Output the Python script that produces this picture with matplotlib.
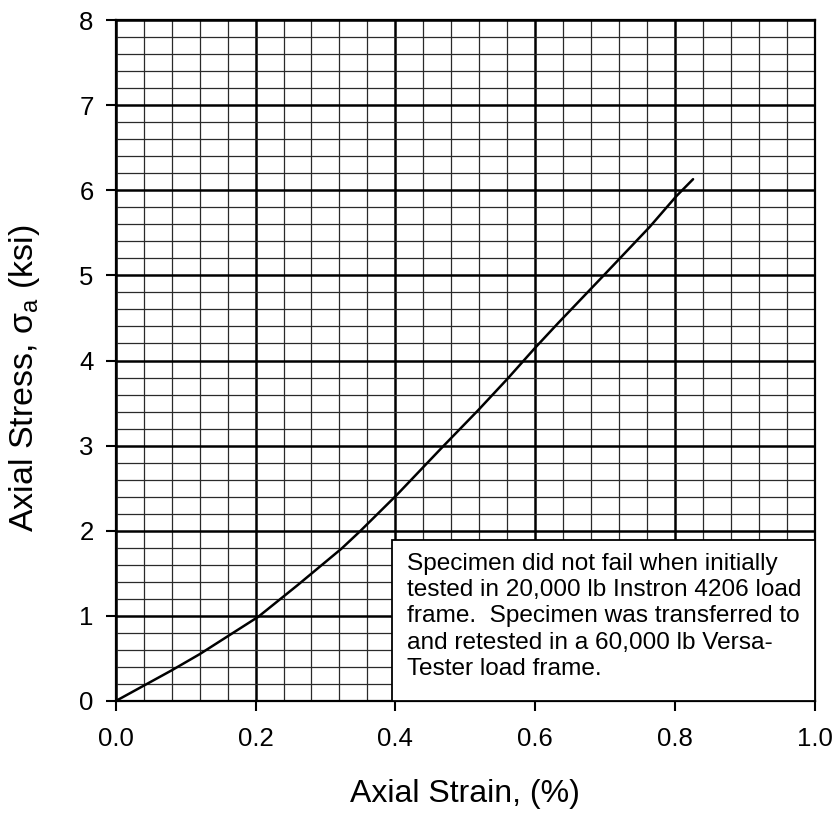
import matplotlib.pyplot as plt
from matplotlib.patches import Rectangle
from matplotlib.ticker import MultipleLocator

plt.rcParams['font.family'] = ['Liberation Sans', 'DejaVu Sans']
plt.rcParams['mathtext.fontset'] = 'custom'
plt.rcParams['mathtext.rm'] = 'Liberation Sans'

# strain (%) and stress (ksi)
strain = [0.0, 0.04, 0.08, 0.12, 0.162, 0.204, 0.26, 0.323, 0.349, 0.402, 0.467,
          0.519, 0.561, 0.599, 0.633, 0.697, 0.764, 0.802, 0.826]
stress = [0.0, 0.18, 0.36, 0.55, 0.77, 0.99, 1.36, 1.79, 1.99, 2.42, 2.98,
          3.42, 3.79, 4.14, 4.44, 4.99, 5.57, 5.93, 6.13]

x_ticks = [0.0, 0.2, 0.4, 0.6, 0.8, 1.0]
x_ticklabels = ['0.0', '0.2', '0.4', '0.6', '0.8', '1.0']
y_ticks = [0, 1, 2, 3, 4, 5, 6, 7, 8]

note = ("Specimen did not fail when initially\n"
        "tested in 20,000 lb Instron 4206 load\n"
        "frame.  Specimen was transferred to\n"
        "and retested in a 60,000 lb Versa-\n"
        "Tester load frame.")

fig = plt.figure(figsize=(8.33, 8.17), dpi=100)
ax = fig.add_axes([0.139, 0.142, 0.839, 0.8335])

ax.plot(strain, stress, color='black', lw=1.8, zorder=3,
        solid_joinstyle='round', solid_capstyle='round')

ax.set_xlim(0, 1.0)
ax.set_ylim(0, 8)
ax.set_xticks(x_ticks)
ax.set_xticklabels(x_ticklabels)
ax.set_yticks(y_ticks)
ax.xaxis.set_minor_locator(MultipleLocator(0.04))
ax.yaxis.set_minor_locator(MultipleLocator(0.2))

ax.grid(which='major', color='black', lw=1.8, zorder=1)
ax.grid(which='minor', color='#2a2a2a', lw=0.9, zorder=1)
ax.tick_params(which='major', direction='out', length=7, width=1.5,
               labelsize=18.5, color='black')
ax.tick_params(axis='x', which='major', pad=12)
ax.tick_params(axis='y', which='major', pad=9)
ax.tick_params(which='minor', length=0)
for s in ax.spines.values():
    s.set_linewidth(1.6)
    s.set_zorder(4)

ax.set_xlabel('Axial Strain, (%)', fontsize=23, va='top')
ax.xaxis.set_label_coords(0.5, -0.114)
ax.set_ylabel('Axial Stress, σ$_\\mathregular{a}$ (ksi)', fontsize=24.5)
ax.yaxis.set_label_coords(-0.105, 0.474)

# note box in the lower right corner
ax.add_patch(Rectangle((0.395, 0.0), 0.605, 0.236, transform=ax.transAxes,
                       facecolor='white', edgecolor='black', lw=1.3, zorder=5))
ax.text(0.416, 0.218, note, transform=ax.transAxes, fontsize=17.6,
        va='top', ha='left', linespacing=1.26, zorder=6)

fig.savefig('out.png', dpi=100)
